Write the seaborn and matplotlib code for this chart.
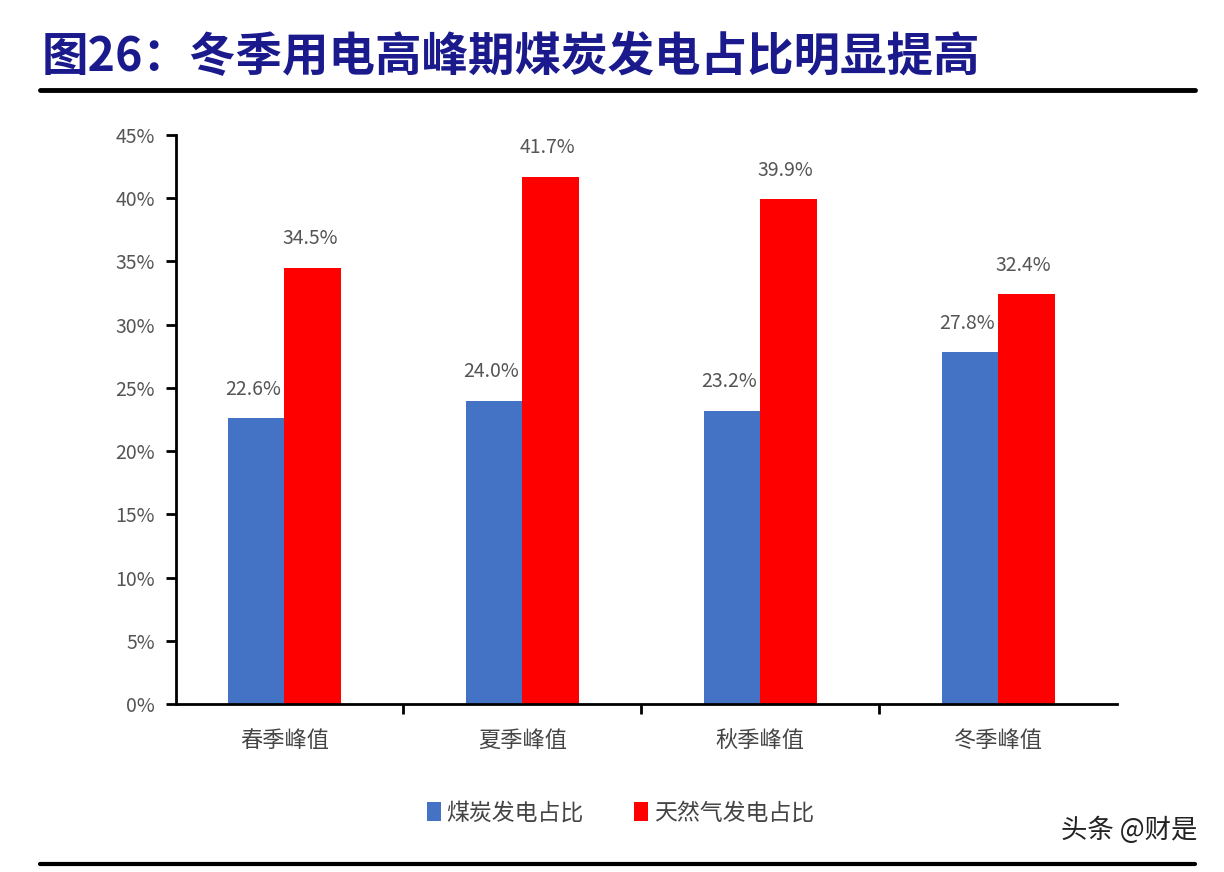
import matplotlib
matplotlib.use("Agg")
import matplotlib.pyplot as plt
from matplotlib.lines import Line2D
import seaborn as sns
import pandas as pd

seasons = ['春季峰值', '夏季峰值', '秋季峰值', '冬季峰值']
series = ['煤炭发电占比', '天然气发电占比']
coal = [22.6, 24.0, 23.2, 27.8]
gas = [34.5, 41.7, 39.9, 32.4]
colors = ['#4472C4', '#FF0000']

df = pd.DataFrame({
    'season': seasons * 2,
    'series': [series[0]] * 4 + [series[1]] * 4,
    'value': coal + gas,
})

sns.set_style('white')
plt.rcParams['font.family'] = ['Noto Sans CJK SC', 'DejaVu Sans']

fig = plt.figure(figsize=(12.24, 8.72), dpi=100)
ax = fig.add_axes([0.1438, 0.1927, 0.9126 - 0.1438, 0.8452 - 0.1927])

sns.barplot(data=df, x='season', y='value', hue='series', palette=colors,
            width=0.475, saturation=1, ax=ax, errorbar=None, linewidth=0)

ax.set_ylim(0, 45)
ax.set_xlim(-0.456, 3.5)
ax.set_yticks(range(0, 46, 5))
ax.set_yticklabels([f'{v}%' for v in range(0, 46, 5)], fontsize=14, color='#555555')
ax.tick_params(axis='y', direction='out', length=7, width=2, color='black', pad=8, left=True)
ax.set_xticks(range(4))
ax.set_xticklabels(seasons, fontsize=16, color='#444444')
ax.set_xticks([0.5, 1.5, 2.5], minor=True)
ax.tick_params(axis='x', which='major', length=0, pad=18)
ax.tick_params(axis='x', which='minor', direction='out', length=7, width=2, color='black', bottom=True)
ax.set_xlabel('')
ax.set_ylabel('')
for s in ['top', 'right']:
    ax.spines[s].set_visible(False)
for s in ['left', 'bottom']:
    ax.spines[s].set_color('black')
    ax.spines[s].set_linewidth(2)

for bar in ax.patches:
    h = bar.get_height()
    if h <= 0:
        continue
    ax.annotate(f'{h:.1f}%', (bar.get_x() + bar.get_width() / 2, h),
                xytext=(-2, 21), textcoords='offset points',
                ha='center', va='center', fontsize=14, color='#555555')

ax.legend(loc='center', bbox_to_anchor=(0.507, 0.068), bbox_transform=fig.transFigure,
          ncol=2, frameon=False, fontsize=16.5, handlelength=0.6, handleheight=0.9,
          handletextpad=0.25, columnspacing=2.2, labelcolor='#444444')

fig.text(0.034, 0.935, '图26：冬季用电高峰期煤炭发电占比明显提高', fontsize=33.5,
         fontweight='bold', color='#1A1A8C', va='center', ha='left')
fig.add_artist(Line2D([0.033, 0.976], [0.897, 0.897], color='black', lw=3.5))
fig.add_artist(Line2D([0.033, 0.976], [0.009, 0.009], color='black', lw=3))
fig.text(0.978, 0.048, '头条 @财是', fontsize=19, color='#222222', ha='right', va='center')

fig.savefig('out.png', dpi=100)
